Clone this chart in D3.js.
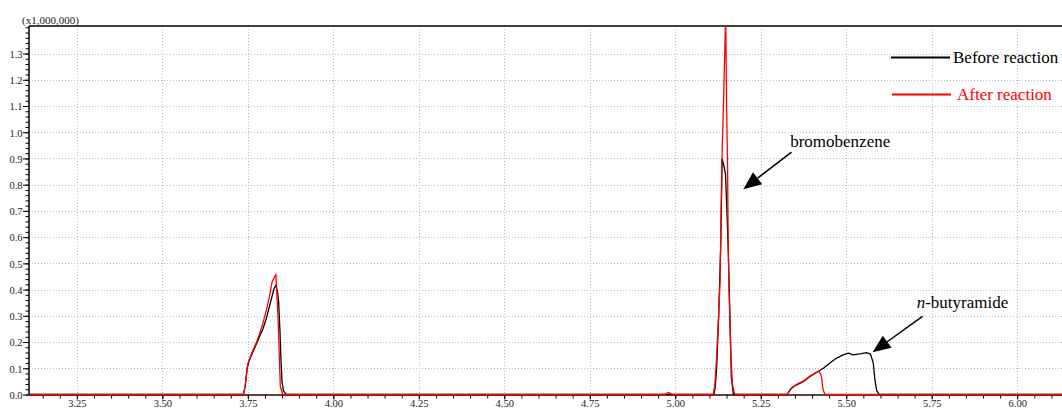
<!DOCTYPE html>
<html>
<head>
<meta charset="utf-8">
<script src="https://cdn.jsdelivr.net/npm/d3@7"></script>
<style>
  html, body { margin: 0; padding: 0; background: #fff; }
  svg { display: block; }
  text { font-family: "Liberation Serif", "Times New Roman", "DejaVu Serif", serif; }
</style>
</head>
<body>
<svg id="chart" width="1062" height="409"></svg>
<script>
// Retention time (min) and intensity (x1,000,000) for the two chromatograms
const beforeTime = [3.110, 3.737, 3.742, 3.748, 3.754, 3.764, 3.774, 3.784, 3.794, 3.804, 3.813, 3.821, 3.827, 3.832, 3.837, 3.840, 3.844, 3.847, 3.850, 3.854, 3.862,
  5.113, 5.117, 5.121, 5.127, 5.133, 5.137, 5.140, 5.147, 5.151, 5.155, 5.160, 5.164, 5.170,
  5.327, 5.340, 5.355, 5.374, 5.394, 5.413, 5.433, 5.452, 5.472, 5.491, 5.506, 5.520, 5.540, 5.559, 5.571, 5.579, 5.584, 5.589, 5.596, 6.131];
const beforeIntensity = [0, 0, 0.03, 0.10, 0.13, 0.16, 0.19, 0.22, 0.25, 0.29, 0.335, 0.375, 0.405, 0.417, 0.39, 0.355, 0.24, 0.13, 0.05, 0.015, 0,
  0, 0.03, 0.10, 0.30, 0.57, 0.898, 0.885, 0.84, 0.70, 0.55, 0.29, 0.065, 0,
  0, 0.024, 0.037, 0.049, 0.069, 0.084, 0.10, 0.12, 0.139, 0.151, 0.158, 0.151, 0.155, 0.16, 0.154, 0.12, 0.056, 0.015, 0, 0];

const afterTime = [3.110, 3.737, 3.742, 3.750, 3.762, 3.774, 3.784, 3.794, 3.804, 3.813, 3.821, 3.832, 3.838, 3.842, 3.845, 3.852,
  4.970, 4.980, 4.990,
  5.111, 5.116, 5.121, 5.126, 5.131, 5.136, 5.141, 5.1475, 5.150, 5.153, 5.155, 5.158, 5.162, 5.167, 5.172, 5.175,
  5.327, 5.340, 5.355, 5.374, 5.394, 5.413, 5.421, 5.425, 5.428, 5.431, 5.433, 5.438, 6.131];
const afterIntensity = [0, 0, 0.03, 0.118, 0.16, 0.195, 0.23, 0.272, 0.32, 0.372, 0.43, 0.458, 0.30, 0.15, 0.03, 0,
  0, 0.008, 0,
  0, 0.04, 0.145, 0.28, 0.43, 0.87, 1.11, 1.45, 1.11, 0.87, 0.55, 0.36, 0.17, 0.04, 0.01, 0,
  0, 0.026, 0.039, 0.051, 0.07, 0.085, 0.088, 0.078, 0.064, 0.03, 0.015, 0, 0];

// Axis ticks
const xTickLabels = ["3.25", "3.50", "3.75", "4.00", "4.25", "4.50", "4.75", "5.00", "5.25", "5.50", "5.75", "6.00"];
const yTickLabels = ["0.0", "0.1", "0.2", "0.3", "0.4", "0.5", "0.6", "0.7", "0.8", "0.9", "1.0", "1.1", "1.2", "1.3"];

// Series and peak annotations
const seriesNames = ["Before reaction", "After reaction"];
const seriesColors = ["#000000", "#ff0000"];
const peakNames = ["bromobenzene", "butyramide"];
const peakTip = [[5.199, 0.783], [5.577, 0.161]];
const peakTail = [[5.340, 0.924], [5.723, 0.298]];
const peakLabelAt = [[5.336, 0.943], [5.706, 0.330]];

(function draw() {
  const svg = d3.select("#chart");
  const pL = 29, pR = 1062, pT = 26, pB = 394.5;

  const x = d3.scaleLinear().domain([3.110, 6.131]).range([pL, pR]);
  const y = d3.scaleLinear().domain([0, 1.405]).range([pB, pT]);

  const fontColor = "#222";

  // Grid
  const grid = svg.append("g").attr("stroke", "#bdbdbd").attr("stroke-width", 1).attr("stroke-dasharray", "1,2");
  grid.selectAll("line.v").data(xTickLabels).join("line").attr("class", "v")
    .attr("x1", d => Math.round(x(+d)) + 0.5).attr("x2", d => Math.round(x(+d)) + 0.5)
    .attr("y1", pT).attr("y2", pB);
  grid.selectAll("line.h").data(yTickLabels.slice(1)).join("line").attr("class", "h")
    .attr("y1", d => Math.round(y(+d)) + 0.5).attr("y2", d => Math.round(y(+d)) + 0.5)
    .attr("x1", pL).attr("x2", pR);

  // Y axis: major and minor ticks
  const yMinor = d3.range(0, 1.40 + 1e-9, 0.02);
  const yAxisMinor = d3.axisLeft(y).tickValues(yMinor).tickSize(3.5).tickFormat("");
  const yAxisMajor = d3.axisLeft(y).tickValues(yTickLabels.map(Number)).tickSize(6).tickFormat((d, i) => yTickLabels[i]);
  const gy1 = svg.append("g").attr("transform", `translate(${pL},0)`).call(yAxisMinor);
  const gy2 = svg.append("g").attr("transform", `translate(${pL},0)`).call(yAxisMajor);
  [gy1, gy2].forEach(g => {
    g.select(".domain").remove();
    g.selectAll(".tick line").attr("stroke", "#000").attr("stroke-width", 1);
  });
  gy2.selectAll(".tick text").attr("font-size", 10.5).attr("fill", fontColor).attr("x", -6.5).attr("dy", "0.36em")
    .style("font-family", '"Liberation Serif", serif');

  // X axis: major and minor ticks
  const xMinor = d3.range(3.15, 6.13, 0.05);
  const xAxisMinor = d3.axisBottom(x).tickValues(xMinor).tickSize(4).tickFormat("");
  const xAxisMajor = d3.axisBottom(x).tickValues(xTickLabels.map(Number)).tickSize(5).tickFormat((d, i) => xTickLabels[i]);
  const gx1 = svg.append("g").attr("transform", `translate(0,${pB})`).call(xAxisMinor);
  const gx2 = svg.append("g").attr("transform", `translate(0,${pB})`).call(xAxisMajor);
  [gx1, gx2].forEach(g => {
    g.select(".domain").remove();
    g.selectAll(".tick line").attr("stroke", "#000").attr("stroke-width", 1);
  });
  gx2.selectAll(".tick text").attr("font-size", 10.5).attr("fill", fontColor).attr("y", 5).attr("dy", "0.71em")
    .style("font-family", '"Liberation Serif", serif');

  // Frame lines
  svg.append("line").attr("x1", pL).attr("x2", pL).attr("y1", pT).attr("y2", pB + 0.5)
    .attr("stroke", "#000").attr("stroke-width", 1.5);
  svg.append("line").attr("x1", pL).attr("x2", pR).attr("y1", pT).attr("y2", pT)
    .attr("stroke", "#000").attr("stroke-width", 1.5);
  svg.append("line").attr("x1", pL).attr("x2", pR).attr("y1", pB + 0.5).attr("y2", pB + 0.5)
    .attr("stroke", "#2a0000").attr("stroke-width", 1.5);

  // Scale multiplier
  svg.append("text").attr("x", 22).attr("y", 24).attr("font-size", 11).attr("fill", fontColor)
    .text("(x1,000,000)");

  // Chromatogram traces
  svg.append("clipPath").attr("id", "plotClip").append("rect")
    .attr("x", pL).attr("y", pT).attr("width", pR - pL).attr("height", pB - pT + 2);

  const line = d3.line().x(d => x(d[0])).y(d => y(d[1]));
  const traces = [
    d3.zip(beforeTime, beforeIntensity),
    d3.zip(afterTime, afterIntensity)
  ];
  svg.append("g").attr("clip-path", "url(#plotClip)")
    .selectAll("path").data(traces).join("path")
    .attr("d", line)
    .attr("fill", "none")
    .attr("stroke", (d, i) => seriesColors[i])
    .attr("stroke-width", 1.3)
    .attr("stroke-linejoin", "round");

  // Legend
  const legend = svg.append("g");
  const legendY = [57.5, 94.5];
  seriesNames.forEach((name, i) => {
    legend.append("line").attr("x1", 891 + i).attr("x2", 950 + i)
      .attr("y1", legendY[i]).attr("y2", legendY[i])
      .attr("stroke", seriesColors[i]).attr("stroke-width", 2);
    legend.append("text").attr("x", i === 0 ? 953 : 957).attr("y", legendY[i] + 5.5)
      .attr("font-size", 17).attr("fill", seriesColors[i]).text(name);
  });

  // Peak annotations with filled arrowheads
  function arrow(tail, tip) {
    const x0 = x(tail[0]), y0 = y(tail[1]), x1 = x(tip[0]), y1 = y(tip[1]);
    const dx = x1 - x0, dy = y1 - y0, len = Math.hypot(dx, dy);
    const ux = dx / len, uy = dy / len;
    const headLen = 18, headHalf = 7.5;
    const bx = x1 - ux * headLen, by = y1 - uy * headLen;
    svg.append("line").attr("x1", x0).attr("y1", y0).attr("x2", bx).attr("y2", by)
      .attr("stroke", "#000").attr("stroke-width", 1.5);
    svg.append("path")
      .attr("d", `M${x1},${y1}L${bx - uy * headHalf},${by + ux * headHalf}L${bx + uy * headHalf},${by - ux * headHalf}Z`)
      .attr("fill", "#000");
  }
  peakTip.forEach((tip, i) => arrow(peakTail[i], tip));

  svg.append("text").attr("x", x(peakLabelAt[0][0])).attr("y", y(peakLabelAt[0][1]))
    .attr("font-size", 17).attr("fill", "#000").text(peakNames[0]);
  const lbl = svg.append("text").attr("x", x(peakLabelAt[1][0])).attr("y", y(peakLabelAt[1][1]))
    .attr("font-size", 17).attr("fill", "#000");
  lbl.append("tspan").attr("font-style", "italic").text("n");
  lbl.append("tspan").text("-" + peakNames[1]);
})();
</script>
</body>
</html>
